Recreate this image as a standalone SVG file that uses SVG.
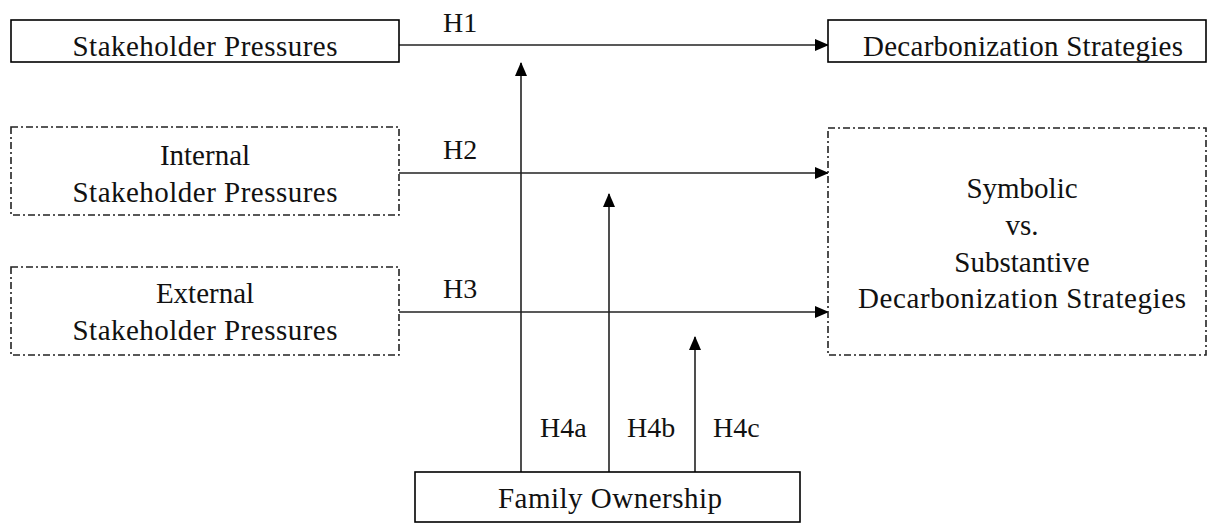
<svg xmlns="http://www.w3.org/2000/svg" width="1211" height="523" viewBox="0 0 1211 523">
<style>
.box{fill:#fff;stroke:#000;stroke-width:1.6}
.dd{fill:#fff;stroke:#222;stroke-width:1.6;stroke-dasharray:7 3 2 3}
.t{font-family:"Liberation Serif","Times New Roman",serif;font-size:29px;fill:#111;text-anchor:middle}
.h{font-family:"Liberation Serif","Times New Roman",serif;font-size:28px;fill:#111}
.c{stroke:#222;stroke-width:1.6;fill:none;marker-end:url(#ah)}
</style>
<defs>
<marker id="ah" markerWidth="14" markerHeight="12" refX="13" refY="6" orient="auto" markerUnits="userSpaceOnUse">
<path d="M0,0 L14,6 L0,12 Z" fill="#000"/>
</marker>
</defs>
<g id="connectors">
<line class="c" x1="399" y1="45" x2="828" y2="45"/>
<line class="c" x1="399" y1="173" x2="828" y2="173"/>
<line class="c" x1="399" y1="312" x2="828" y2="312"/>
<line class="c" x1="521" y1="472" x2="521" y2="63"/>
<line class="c" x1="609" y1="472" x2="609" y2="194"/>
<line class="c" x1="695" y1="472" x2="695" y2="337"/>
<text class="h" x="443" y="32">H1</text>
<text class="h" x="443" y="159">H2</text>
<text class="h" x="443" y="298">H3</text>
<text class="h" x="540" y="437">H4a</text>
<text class="h" x="627" y="437">H4b</text>
<text class="h" x="713" y="437">H4c</text>
</g>
<g id="stakeholder">
<rect class="box" x="11" y="20" width="388" height="42"/>
<text class="t" x="205" y="56" textLength="265" lengthAdjust="spacing">Stakeholder Pressures</text>
</g>
<g id="decarbonization">
<rect class="box" x="828" y="20" width="378" height="42"/>
<text class="t" x="1023" y="56" textLength="320" lengthAdjust="spacing">Decarbonization Strategies</text>
</g>
<g id="internal">
<rect class="dd" x="11" y="127" width="388" height="88"/>
<text class="t" x="205" y="165">Internal</text>
<text class="t" x="205" y="202" textLength="265" lengthAdjust="spacing">Stakeholder Pressures</text>
</g>
<g id="external">
<rect class="dd" x="11" y="267" width="388" height="88"/>
<text class="t" x="205" y="303">External</text>
<text class="t" x="205" y="340" textLength="265" lengthAdjust="spacing">Stakeholder Pressures</text>
</g>
<g id="symbolic">
<rect class="dd" x="828" y="128" width="378" height="227"/>
<text class="t" x="1022" y="198">Symbolic</text>
<text class="t" x="1022" y="235">vs.</text>
<text class="t" x="1022" y="272">Substantive</text>
<text class="t" x="1022" y="308" textLength="328" lengthAdjust="spacing">Decarbonization Strategies</text>
</g>
<g id="family">
<rect class="box" x="415" y="472" width="385" height="50"/>
<text class="t" x="610" y="508" textLength="224" lengthAdjust="spacing">Family Ownership</text>
</g>
</svg>
